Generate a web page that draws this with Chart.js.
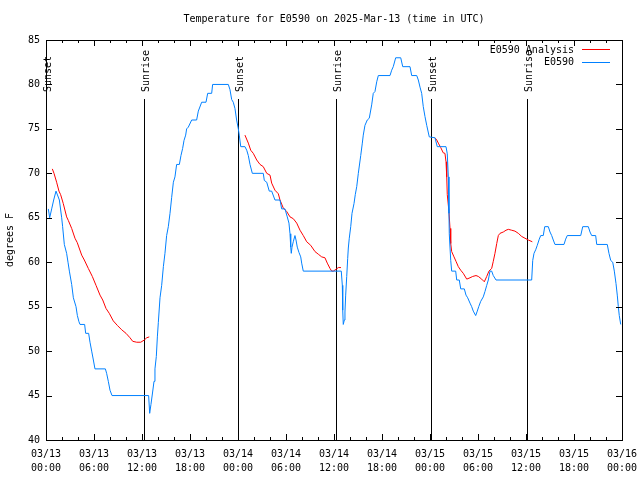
<!DOCTYPE html>
<html>
<head>
<meta charset="utf-8">
<script src="https://cdn.jsdelivr.net/npm/chart.js@4"></script>
<style>
  body { margin: 0; background: #fff; }
</style>
</head>
<body>
<canvas id="temp-chart" width="640" height="480"></canvas>
<script>
// hours since 03/13 00:00 UTC
const obsHours = [0.29,0.46,0.71,0.96,1.25,1.33,1.67,1.96,2.08,2.29,2.58,2.75,2.92,3.21,3.42,3.75,3.92,4.12,4.25,4.83,4.96,5.33,5.5,5.71,5.92,6.12,7.42,7.58,7.79,8.0,8.25,
  12.83,12.96,13.12,13.33,13.5,13.62,13.79,13.92,14.04,14.25,14.46,14.67,14.87,15.08,15.29,15.5,15.71,15.92,16.12,16.33,16.67,16.87,17.08,17.25,17.46,17.58,17.79,18.21,18.83,19.04,19.46,20.0,20.21,20.71,20.83,22.79,23.0,23.21,23.41,23.62,23.83,
  24.04,24.16,24.34,24.87,25.09,25.29,25.5,25.79,27.16,27.29,27.59,27.91,28.21,28.62,29.25,29.46,29.87,30.16,30.37,30.5,30.59,30.66,30.75,30.91,31.12,31.25,31.41,31.62,31.84,31.96,32.16,
  36.91,37.04,37.09,37.16,37.29,37.37,37.46,37.59,37.71,37.79,37.91,38.09,38.25,38.5,38.66,38.84,39.04,39.34,39.54,39.66,39.87,40.16,40.41,40.71,40.91,41.12,41.34,41.54,43.0,43.21,43.41,43.71,44.34,44.59,45.5,45.71,46.34,46.54,46.75,46.96,47.16,47.37,47.59,47.91,
  48.62,48.91,50.0,50.16,50.29,50.37,50.41,50.59,50.71,51.21,51.34,51.66,51.84,52.29,52.5,52.71,53.0,53.21,53.41,53.71,53.91,54.09,54.34,54.66,54.87,55.09,55.29,55.5,55.71,55.91,56.25,
  60.71,60.84,61.0,61.21,61.41,61.66,61.84,62.16,62.34,62.79,63.0,63.21,63.41,63.62,64.75,64.96,65.16,66.84,67.09,67.79,68.0,68.21,68.71,68.84,70.16,70.37,70.59,70.84,71.04,71.25,71.41,71.54,71.66,71.84];
const obsTemps = [66,65,66,67,68,68,67,65,64,62,61,60,59,57.5,56,55,54,53.3,53,53,52,52,51,50,49,48,48,47.5,46.6,45.6,45,
  45,43,44,45.4,46.6,48,49.4,51.6,53.2,56,57.4,59.5,61,63,64,65.5,67.3,69,69.6,71,71,72,72.8,73.7,74.3,75,75.2,76,76,77,78,78,79,79,80,80,79.4,78.3,78,77.3,76,
  75,74.3,73,73,72.6,72,71,70,70,69.2,69,68,68,67,67,66,66,65.1,64.4,63.2,61.7,61,61.7,62.3,63,62.5,61.7,61.1,60.6,59.9,59,
  59,57.4,54.6,53,53.5,54.4,56.3,58.4,60.4,61.6,62.7,64,65.5,66.6,67.6,68.5,70,72,73.4,74.3,75.4,76,76.2,77.7,79,79.2,80.3,81,81,81.6,82,83,83,82,82,81,81,80.5,79.7,79,77.5,76.4,75.4,74.1,
  74,73,73,72.2,69.6,65.5,63.2,60.2,59,59,58,58,57,57,56.3,56,55.4,55,54.5,54,54.5,55,55.6,56.1,56.7,57.4,58,59,59,58.5,58,
  58,60.2,61,61.4,61.9,62.6,63,63,64,64,63.4,63,62.5,62,62,62.6,63,63,64,64,63.4,63,63,62,62,61,60.2,60,59,57.6,56.3,55,54,53];

// analysis runs, null = gap between runs
const anaHours = [0.79,1.0,1.33,1.62,1.83,2.16,2.58,2.79,3.21,3.62,3.91,4.46,4.79,5.29,5.79,6.25,6.75,7.09,7.5,7.91,8.41,8.91,9.46,10.0,10.5,10.84,11.34,11.84,12.29,12.59,12.91,
  18.0,
  24.87,25.29,25.59,25.91,26.34,26.75,27.16,27.59,28.0,28.21,28.62,29.04,29.25,29.66,30.09,30.5,30.91,31.34,31.75,32.16,32.59,33.09,33.62,34.04,34.46,34.87,35.16,35.5,35.71,35.91,36.25,36.54,36.87,
  42.0,
  48.62,48.84,49.04,49.34,49.66,49.87,50.0,50.09,50.16,50.37,50.5,50.59,50.71,51.0,51.25,51.54,51.84,52.16,52.59,53.0,53.34,53.75,54.04,54.46,54.79,55.09,55.37,55.71,55.91,56.12,56.34,56.54,56.75,57.16,57.5,57.79,58.21,58.62,59.04,59.46,59.87,60.29,60.79];
const anaTemps = [70.5,70,69,68,67.6,66.6,65.1,64.7,63.8,62.7,62.2,60.8,60.25,59.3,58.4,57.4,56.3,55.75,54.8,54.25,53.4,52.9,52.4,52,51.5,51.1,51,51,51.25,51.5,51.6,
  null,
  74.3,73.4,72.6,72.25,71.5,71,70.75,70,69.8,68.9,68.1,67.7,67,66.1,65.7,65.1,64.9,64.4,63.6,63,62.3,61.9,61.2,60.9,60.6,60.5,59.9,59.3,59,59,59.2,59.4,59.4,
  null,
  74,73.75,73.4,72.9,72.3,72.25,71.3,69.6,67.6,65.7,63.8,62.1,61.2,60.6,60.1,59.5,59.1,58.75,58.1,58.25,58.4,58.5,58.4,58.1,57.8,58.4,59,59.3,60.1,61,62.1,63,63.25,63.4,63.6,63.7,63.6,63.5,63.25,62.9,62.7,62.5,62.3];

const sunsetHours = [0.0, 24.04, 48.08];
const sunriseHours = [12.29, 36.29, 60.16];
const xTickLabels = [['03/13','00:00'],['03/13','06:00'],['03/13','12:00'],['03/13','18:00'],
  ['03/14','00:00'],['03/14','06:00'],['03/14','12:00'],['03/14','18:00'],
  ['03/15','00:00'],['03/15','06:00'],['03/15','12:00'],['03/15','18:00'],['03/16','00:00']];

const FONT = "10px 'DejaVu Sans Mono', monospace";
const RED = '#ff0000';
const BLUE = 'rgb(0, 128, 255)';

const toPoints = (xs, ys) => xs.map((x, i) => ({x: x, y: ys[i]}));

// gnuplot-ish decorations: frame, inward ticks, sun lines, title, legend
const gnuDeco = {
  id: 'gnuDeco',
  beforeDatasetsDraw(chart) {
    const {ctx, chartArea: a, scales: {x}} = chart;
    ctx.save();
    ctx.strokeStyle = '#000';
    ctx.fillStyle = '#000';
    ctx.lineWidth = 1;
    ctx.font = FONT;
    const marks = sunsetHours.map(h => [h, 'Sunset']).concat(sunriseHours.map(h => [h, 'Sunrise']));
    marks.forEach(([h, txt]) => {
      const px = Math.round(x.getPixelForValue(h)) + 0.5;
      ctx.beginPath();
      ctx.moveTo(px, 99);
      ctx.lineTo(px, a.bottom);
      ctx.stroke();
      ctx.save();
      ctx.translate(px + 1.5, 92);
      ctx.rotate(-Math.PI / 2);
      ctx.textAlign = 'left';
      ctx.textBaseline = 'middle';
      ctx.fillText(txt, 0, 0);
      ctx.restore();
    });
    ctx.restore();
  },
  afterDraw(chart) {
    const {ctx, chartArea: a, scales: {x, y}} = chart;
    ctx.save();
    ctx.strokeStyle = '#000';
    ctx.lineWidth = 1;
    ctx.strokeRect(a.left + 0.5, a.top + 0.5, a.right - a.left, a.bottom - a.top);
    ctx.beginPath();
    for (let h = 0; h <= 72; h += 2) {
      const px = Math.round(x.getPixelForValue(h)) + 0.5;
      const len = h % 6 === 0 ? 6 : 3;
      ctx.moveTo(px, a.bottom); ctx.lineTo(px, a.bottom - len);
      ctx.moveTo(px, a.top); ctx.lineTo(px, a.top + len);
    }
    for (let t = 40; t <= 85; t += 5) {
      const py = Math.round(y.getPixelForValue(t)) + 0.5;
      ctx.moveTo(a.left, py); ctx.lineTo(a.left + 6, py);
      ctx.moveTo(a.right, py); ctx.lineTo(a.right - 6, py);
    }
    ctx.stroke();

    ctx.fillStyle = '#000';
    ctx.font = FONT;
    ctx.textBaseline = 'middle';
    ctx.textAlign = 'center';
    ctx.fillText('Temperature for E0590 on 2025-Mar-13 (time in UTC)', (a.left + a.right) / 2, 19);

    ctx.save();
    ctx.translate(10, 240);
    ctx.rotate(-Math.PI / 2);
    ctx.fillText('degrees F', 0, 0);
    ctx.restore();

    // legend
    ctx.textAlign = 'right';
    [['E0590 Analysis', RED, 50], ['E0590', BLUE, 62.5]].forEach(([lab, col, ly]) => {
      ctx.fillStyle = '#000';
      ctx.fillText(lab, 574, ly);
      ctx.strokeStyle = col;
      ctx.beginPath();
      ctx.moveTo(582, Math.round(ly) - 0.5);
      ctx.lineTo(610, Math.round(ly) - 0.5);
      ctx.stroke();
    });
    ctx.restore();
  }
};

const tempCanvas = document.getElementById('temp-chart');

new Chart(tempCanvas, {
  type: 'line',
  data: {
    datasets: [{
      label: 'E0590',
      data: toPoints(obsHours, obsTemps),
      borderColor: BLUE,
      borderWidth: 1,
      pointRadius: 0,
      tension: 0,
      order: 1
    }, {
      label: 'E0590 Analysis',
      data: toPoints(anaHours, anaTemps),
      borderColor: RED,
      borderWidth: 1,
      pointRadius: 0,
      tension: 0,
      spanGaps: false,
      order: 2
    }]
  },
  options: {
    responsive: false,
    animation: false,
    devicePixelRatio: 1,
    layout: { padding: { top: 40, right: 18, left: 0, bottom: 0 } },
    plugins: {
      legend: { display: false },
      tooltip: { enabled: false }
    },
    scales: {
      x: {
        type: 'linear',
        min: 0,
        max: 72,
        afterFit: s => { s.height = 40; s.paddingLeft = 0; s.paddingRight = 0; },
        grid: { display: false, drawTicks: false },
        border: { display: false },
        ticks: {
          stepSize: 6,
          autoSkip: false,
          maxRotation: 0,
          padding: 7,
          color: '#000',
          font: { family: "'DejaVu Sans Mono', monospace", size: 10, lineHeight: 1.4 },
          callback: v => xTickLabels[Math.round(v / 6)]
        }
      },
      y: {
        min: 40,
        max: 85,
        afterFit: s => { s.width = 46; s.paddingTop = 0; s.paddingBottom = 0; },
        grid: { display: false, drawTicks: false },
        border: { display: false },
        ticks: {
          stepSize: 5,
          padding: 6,
          color: '#000',
          font: { family: "'DejaVu Sans Mono', monospace", size: 10 }
        }
      }
    }
  },
  plugins: [gnuDeco]
});
</script>
</body>
</html>
